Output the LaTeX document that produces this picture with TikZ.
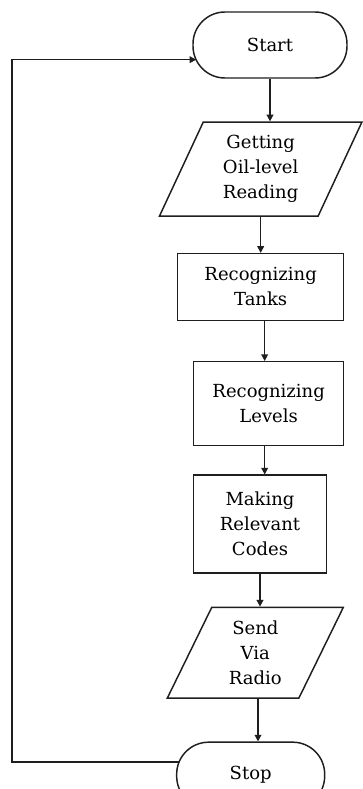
\documentclass[tikz,border=0pt]{standalone}
\usepackage{fontspec}
\setmainfont{DejaVu Serif}
\usetikzlibrary{arrows.meta,positioning,shapes.geometric}
\definecolor{ink}{HTML}{1E1E1E}
\tikzset{term/.style={draw=ink,line width=1.1pt,rounded corners=24pt,align=center,font=\fontsize{13.5}{18.75}\selectfont,minimum width=111pt,minimum height=49.5pt,inner sep=2pt},proc/.style={draw=ink,line width=1.1pt,align=center,font=\fontsize{13.5}{18.75}\selectfont,inner sep=2pt},io/.style={trapezium,trapezium left angle=67,trapezium right angle=113,trapezium stretches=true,draw=ink,line width=1.1pt,align=center,font=\fontsize{13.5}{18.75}\selectfont,inner sep=1pt},flow/.style={-{Triangle[length=5pt,width=5pt]},line width=1.1pt,draw=ink}}

\begin{document}
\begin{tikzpicture}
\useasboundingbox (0,0) rectangle (272.25pt,-591.75pt);
\node[term,minimum width=115.5pt] (start) at (202.5pt,-33.75pt) {Start};
\node[io,minimum width=152pt,minimum height=70.5pt,below=32pt of start,xshift=-7pt] (oil) {Getting\\Oil-level\\Reading};
\node[proc,minimum width=124.5pt,minimum height=50pt,below=27pt of oil] (tanks) {Recognizing\\Tanks};
\node[proc,minimum width=112.5pt,minimum height=63pt,below=30pt of tanks,xshift=6pt] (levels) {Recognizing\\Levels};
\node[proc,minimum width=100pt,minimum height=73.5pt,below=21pt of levels,xshift=-6.5pt] (codes) {Making\\Relevant\\Codes};
\node[io,minimum width=132pt,minimum height=68pt,below=24.5pt of codes,xshift=-3.5pt] (radio) {Send\\Via\\Radio};
\node[term,below=32pt of radio,xshift=-3.5pt] (stop) {Stop};
\coordinate (back) at (9pt,0);
\draw[flow] (start.south) -- (start.south |- oil.north);
\draw[flow] (oil.south) -- (oil.south |- tanks.north);
\draw[flow] ([xshift=3pt]tanks.south) -- ([xshift=3pt]tanks.south |- levels.north);
\draw[flow] ([xshift=-3pt]levels.south) -- ([xshift=-3pt]levels.south |- codes.north);
\draw[flow] (codes.south) -- (codes.south |- radio.north);
\draw[flow] ([xshift=2pt]radio.south) -- ([xshift=2pt]radio.south |- stop.north);
\draw[flow] ([yshift=10pt,xshift=2pt]stop.west) -- ([yshift=10pt]stop.west -| back) |- ([yshift=-11pt,xshift=3pt]start.west);
\end{tikzpicture}
\end{document}
